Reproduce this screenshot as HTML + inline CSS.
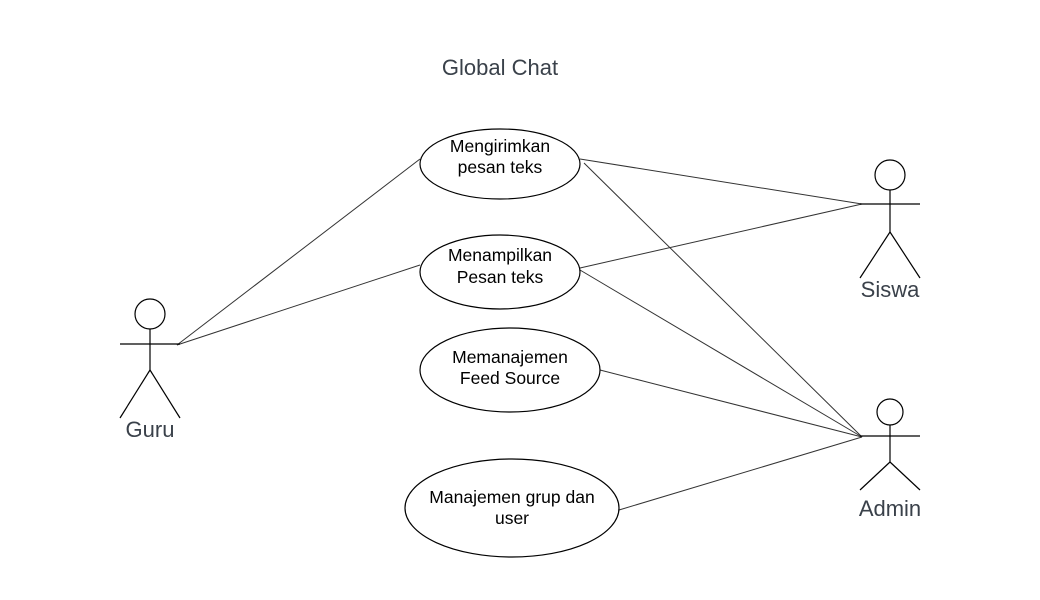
<!DOCTYPE html>
<html><head><meta charset="utf-8"><style>
html,body{margin:0;padding:0;background:#fff;}
svg{display:block;}
text{font-family:"Liberation Sans",sans-serif;}
</style></head><body>
<svg width="1040" height="600" viewBox="0 0 1040 600" xmlns="http://www.w3.org/2000/svg">
<rect width="1040" height="600" fill="#fff"/>
<text x="500" y="75" font-size="22" fill="#3a414a" text-anchor="middle">Global Chat</text>
<g stroke="#333" stroke-width="1" fill="none">
<line x1="177" y1="345" x2="420" y2="159"/>
<line x1="177" y1="345" x2="420" y2="265"/>
<line x1="580" y1="159" x2="862" y2="204"/>
<line x1="584" y1="163" x2="862" y2="437"/>
<line x1="580" y1="268" x2="862" y2="204"/>
<line x1="580" y1="270" x2="862" y2="437"/>
<line x1="600" y1="370" x2="862" y2="437"/>
<line x1="619" y1="510" x2="862" y2="437"/>
</g>
<g stroke="#000" stroke-width="1.2" fill="#fff">
<ellipse cx="500" cy="164" rx="80" ry="35"/>
<ellipse cx="500" cy="272" rx="80" ry="37"/>
<ellipse cx="510" cy="370" rx="90" ry="42"/>
<ellipse cx="512" cy="508" rx="107" ry="49"/>
</g>
<g font-size="17.5" fill="#000" text-anchor="middle">
<text x="500" y="152">Mengirimkan</text><text x="500" y="173">pesan teks</text>
<text x="500" y="261">Menampilkan</text><text x="500" y="283">Pesan teks</text>
<text x="510" y="363">Memanajemen</text><text x="510" y="384">Feed Source</text>
<text x="512" y="503">Manajemen grup dan</text><text x="512" y="524">user</text>
</g>
<g stroke="#000" stroke-width="1.2" fill="#fff">
<circle cx="150" cy="314" r="15"/>
<line x1="150" y1="329" x2="150" y2="370"/>
<line x1="120" y1="344" x2="180" y2="344"/>
<line x1="150" y1="370" x2="120" y2="418"/>
<line x1="150" y1="370" x2="180" y2="418"/>
<circle cx="890" cy="175" r="15"/>
<line x1="890" y1="190" x2="890" y2="232"/>
<line x1="860" y1="204" x2="920" y2="204"/>
<line x1="890" y1="232" x2="860" y2="278"/>
<line x1="890" y1="232" x2="920" y2="278"/>
<circle cx="890" cy="412" r="13"/>
<line x1="890" y1="425" x2="890" y2="462"/>
<line x1="860" y1="436" x2="920" y2="436"/>
<line x1="890" y1="462" x2="860" y2="490"/>
<line x1="890" y1="462" x2="920" y2="490"/>
</g>
<g font-size="22" fill="#3a414a" text-anchor="middle">
<text x="150" y="437">Guru</text>
<text x="890" y="297">Siswa</text>
<text x="890" y="516">Admin</text>
</g>
</svg>
</body></html>
